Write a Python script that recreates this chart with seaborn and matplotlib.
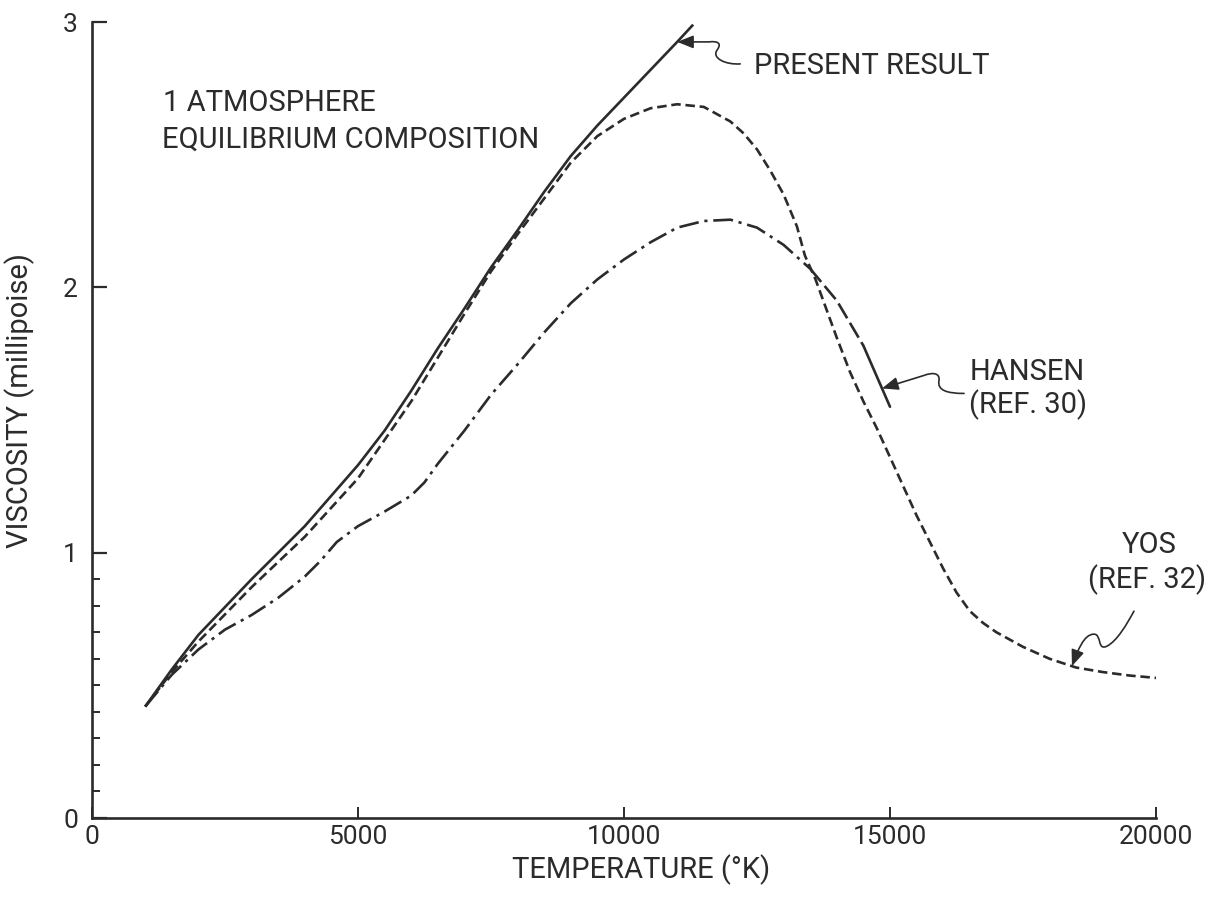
import numpy as np
import pandas as pd
import seaborn as sns
import matplotlib
matplotlib.use("Agg")
import matplotlib.pyplot as plt
from matplotlib.path import Path
from matplotlib.patches import FancyArrowPatch
from matplotlib.transforms import ScaledTranslation

# Viscosity of equilibrium air at 1 atmosphere (millipoise) vs temperature (K)
present_T = [1000, 1500, 2000, 3000, 4000, 5000, 5500, 6000, 6500, 7000,
             7500, 8000, 8500, 9000, 9500, 10000, 10500, 11000, 11300]
present_V = [0.42, 0.56, 0.69, 0.90, 1.10, 1.33, 1.46, 1.61, 1.77, 1.92,
             2.075, 2.215, 2.36, 2.495, 2.61, 2.715, 2.82, 2.925, 2.99]

hansen_T = [1000, 1500, 2000, 2500, 3000, 3500, 4000, 4300, 4600, 5000,
            5500, 6000, 6250, 6500, 7000, 7500, 8000, 8500, 9000, 9500,
            10000, 10500, 11000, 11500, 12000, 12500, 13000, 13500, 14000,
            14500, 15000]
hansen_V = [0.42, 0.54, 0.635, 0.71, 0.765, 0.83, 0.91, 0.97, 1.04, 1.10,
            1.155, 1.215, 1.265, 1.335, 1.46, 1.595, 1.71, 1.83, 1.94, 2.03,
            2.105, 2.17, 2.225, 2.25, 2.255, 2.225, 2.16, 2.07, 1.95,
            1.78, 1.55]

yos_T = [1000, 1500, 2000, 3000, 4000, 5000, 6000, 7000, 7500, 8000, 9000,
         9500, 10000, 10500, 11000, 11500, 12000, 12250, 12500, 12750,
         13000, 13250, 13400, 13600, 13800, 14000, 14250, 14500, 14750,
         15000, 15250, 15500, 15750, 16000, 16250, 16500, 16750, 17000,
         17500, 18000, 18500, 19000, 19500, 20000]
yos_V = [0.42, 0.55, 0.665, 0.87, 1.06, 1.28, 1.57, 1.90, 2.06, 2.20, 2.47,
         2.57, 2.635, 2.675, 2.69, 2.68, 2.625, 2.58, 2.52, 2.44,
         2.35, 2.23, 2.12, 2.03, 1.92, 1.81, 1.68, 1.57, 1.47,
         1.36, 1.25, 1.14, 1.04, 0.94, 0.85, 0.78, 0.735, 0.70,
         0.645, 0.60, 0.567, 0.55, 0.537, 0.528]

x_ticks = [0, 5000, 10000, 15000, 20000]
y_ticks = [0, 1, 2, 3]
y_minor_ticks = [0.1, 0.2, 0.3, 0.4, 0.5, 0.6, 0.7, 0.8, 0.9]

ink = "#2b2b2b"

sns.set_style("ticks")
plt.rcParams["font.family"] = ["Roboto", "DejaVu Sans"]
plt.rcParams["text.color"] = ink
plt.rcParams["axes.labelcolor"] = ink
plt.rcParams["xtick.color"] = ink
plt.rcParams["ytick.color"] = ink

fig = plt.figure(figsize=(12.09, 9.02), dpi=100)
ax = fig.add_axes([92 / 1209, 1 - 818 / 902, (1156 - 92) / 1209, (818 - 22) / 902])

present = pd.DataFrame({"T": present_T, "V": present_V})
hansen = pd.DataFrame({"T": hansen_T, "V": hansen_V})
yos = pd.DataFrame({"T": yos_T, "V": yos_V})

lw = 1.9
# Present result: solid
sns.lineplot(data=present, x="T", y="V", ax=ax, color=ink, lw=lw,
             linestyle="-", solid_capstyle="butt", solid_joinstyle="round")
# Yos: short dashes
sns.lineplot(data=yos, x="T", y="V", ax=ax, color=ink, lw=lw,
             linestyle=(0, (3.6, 1.8)), dash_capstyle="butt",
             dash_joinstyle="round")
# Hansen: dash-dot, then long dashes, ending in a solid stroke
h1 = hansen[hansen["T"] <= 13500]
h2 = hansen[(hansen["T"] >= 13500) & (hansen["T"] <= 14500)]
h3 = hansen[hansen["T"] >= 14500]
sns.lineplot(data=h1, x="T", y="V", ax=ax, color=ink, lw=lw,
             linestyle=(0, (7.5, 2.2, 1.2, 2.2)), dash_capstyle="butt",
             dash_joinstyle="round")
sns.lineplot(data=h2, x="T", y="V", ax=ax, color=ink, lw=lw,
             linestyle=(0, (6.5, 2.0)), dash_capstyle="butt")
sns.lineplot(data=h3, x="T", y="V", ax=ax, color=ink, lw=lw, linestyle="-")

ax.set_xlim(0, 20000)
ax.set_ylim(0, 3)
ax.set_xticks(x_ticks)
ax.set_xticklabels([str(t) for t in x_ticks])
ax.set_yticks(y_ticks)
ax.set_yticklabels([str(t) for t in y_ticks])
ax.set_yticks(y_minor_ticks, minor=True)

for side in ("top", "right"):
    ax.spines[side].set_visible(False)
for side in ("left", "bottom"):
    ax.spines[side].set_linewidth(1.9)
    ax.spines[side].set_color(ink)

ax.tick_params(axis="y", which="major", direction="in", length=11, width=1.6,
               labelsize=19, pad=10)
ax.tick_params(axis="y", which="minor", direction="in", length=6, width=1.4)
ax.tick_params(axis="x", which="major", direction="in", length=8, width=1.4,
               labelsize=19, pad=5)

ax.set_xlabel("TEMPERATURE (°K)", fontsize=21)
ax.set_ylabel("VISCOSITY (millipoise)", fontsize=21)
ax.xaxis.set_label_coords(0.516, -0.046)
ax.yaxis.set_label_coords(-0.054, 0.525)

# Annotations
note = dict(fontsize=21, color=ink)
ax.text(1340, 2.695, "1 ATMOSPHERE", ha="left", va="center", **note)
ax.text(1320, 2.556, "EQUILIBRIUM COMPOSITION", ha="left", va="center", **note)
ax.text(12450, 2.835, "PRESENT RESULT", ha="left", va="center", **note)
ax.text(17580, 1.681, "HANSEN", ha="center", va="center", **note)
ax.text(17600, 1.557, "(REF. 30)", ha="center", va="center", **note)
ax.text(19880, 1.029, "YOS", ha="center", va="center", **note)
ax.text(19840, 0.897, "(REF. 32)", ha="center", va="center", **note)


def squiggle(t_tip, curve_T, curve_V, pts):
    """Wavy leader ending in an arrowhead on a curve; pts are pixel offsets from the tip."""
    v_tip = float(np.interp(t_tip, curve_T, curve_V))
    trans = fig.dpi_scale_trans + ScaledTranslation(t_tip, v_tip, ax.transData)
    verts = [(x / 100.0, y / 100.0) for x, y in pts]
    codes = [Path.MOVETO] + [Path.CURVE4] * (len(verts) - 2) + [Path.LINETO]
    arrow = FancyArrowPatch(path=Path(verts, codes),
                            arrowstyle="-|>,head_length=0.7,head_width=0.28",
                            mutation_scale=14, color=ink, lw=1.2,
                            transform=trans, clip_on=False)
    ax.add_patch(arrow)


squiggle(11000, present_T, present_V,
         [(63, -22), (48, -23), (34, -16), (40, -8),
          (45, -1), (40, 1), (32, 0), (0, 0)])
squiggle(14850, hansen_T, hansen_V,
         [(82, -5), (65, -5), (55, -2), (57, 8),
          (58, 16), (50, 16), (42, 13), (0, 0)])
squiggle(18420, yos_T, yos_V,
         [(62, 55), (55, 42), (45, 25), (35, 20),
          (25, 15), (30, 32), (22, 32),
          (12, 32), (6, 16), (0, 0)])

fig.savefig("out.png", dpi=100, facecolor="white")
